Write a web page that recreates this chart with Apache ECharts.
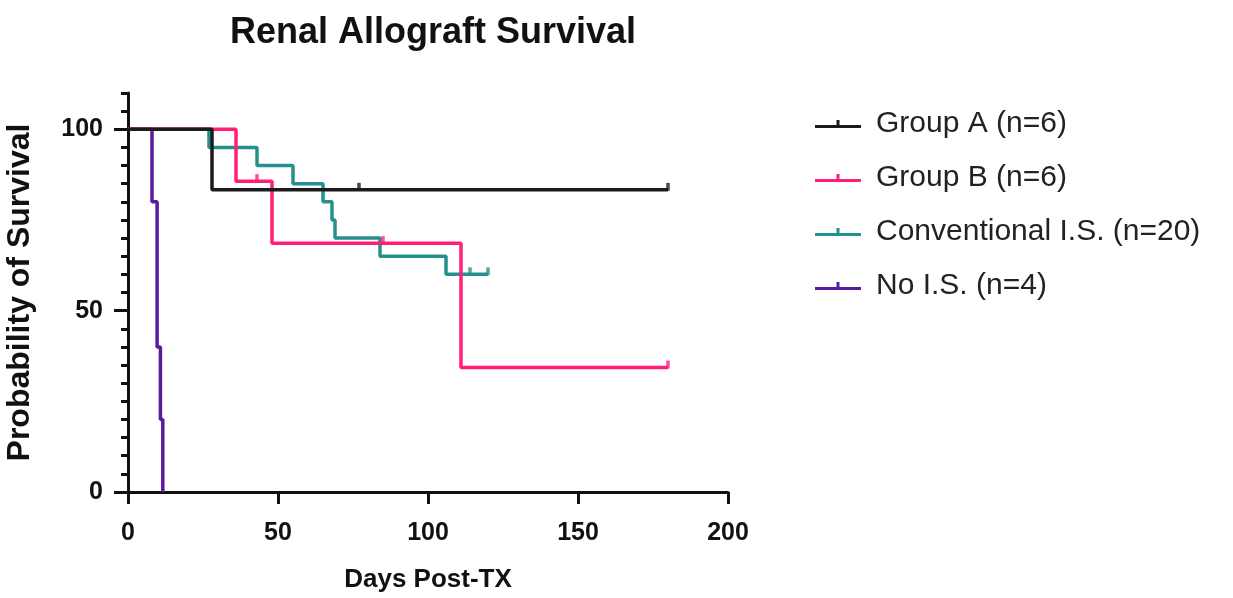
<!DOCTYPE html>
<html>
<head>
<meta charset="utf-8">
<script src="https://cdn.jsdelivr.net/npm/echarts@6/dist/echarts.min.js"></script>
<style>
  html, body { margin: 0; padding: 0; background: #fff; }
  #chart { width: 1233px; height: 598px; }
</style>
</head>
<body>
<div id="chart"></div>
<script>
// Kaplan-Meier style survival curves
const groupNames = ['Group A (n=6)', 'Group B (n=6)', 'Conventional I.S. (n=20)', 'No I.S. (n=4)']
const groupColors = ['#1b1b1b', '#ff1f78', '#24918f', '#5a1aa0']

// event times (days) and survival (%) after each step
const groupADays = [0, 28, 180]
const groupASurv = [100, 83.3, 83.3]
const groupACensorDays = [77, 180]
const groupACensorSurv = [83.3, 83.3]

const groupBDays = [0, 36, 48, 111, 180]
const groupBSurv = [100, 85.7, 68.6, 34.3, 34.3]
const groupBCensorDays = [43, 85, 180]
const groupBCensorSurv = [85.7, 68.6, 34.3]

const convDays = [0, 27, 43, 55, 65, 68, 69, 84, 106, 120]
const convSurv = [100, 95, 90, 85, 80, 75, 70, 65, 60, 60]
const convCensorDays = [114, 120]
const convCensorSurv = [60, 60]

const noIsDays = [0, 8, 9.7, 10.8, 11.6]
const noIsSurv = [100, 80, 40, 20, 0]
const noIsCensorDays = []
const noIsCensorSurv = []

const xTicks = [0, 50, 100, 150, 200]
const yMajorTicks = [0, 50, 100]

const pairs = (xs, ys) => xs.map((x, i) => [x, ys[i]])

const curves = [
  [groupADays, groupASurv, groupACensorDays, groupACensorSurv],
  [groupBDays, groupBSurv, groupBCensorDays, groupBCensorSurv],
  [convDays, convSurv, convCensorDays, convCensorSurv],
  [noIsDays, noIsSurv, noIsCensorDays, noIsCensorSurv],
]

const font = '"Liberation Sans", Arial, Helvetica, sans-serif'
const legendIcon = 'path://M0,7h46v3h-46z M21.5,2h3v5h-3z'

// group A is drawn on top, no I.S. at the bottom
const series = []
curves.forEach(function (c, g) {
  series.push({
    name: groupNames[g],
    type: 'line',
    step: 'end',
    data: pairs(c[0], c[1]),
    showSymbol: false,
    symbol: 'none',
    z: 10 - g,
    lineStyle: { width: 3.5, color: groupColors[g] },
    itemStyle: { color: groupColors[g] },
    emphasis: { disabled: true },
  })
  series.push({
    name: groupNames[g],
    type: 'scatter',
    data: pairs(c[2], c[3]),
    symbol: 'rect',
    symbolSize: [3.5, 8],
    symbolOffset: [0, -3],
    z: 10 - g,
    itemStyle: { color: groupColors[g] },
    emphasis: { disabled: true },
  })
})

const chart = echarts.init(document.getElementById('chart'))
chart.setOption({
  animation: false,
  backgroundColor: '#fff',
  textStyle: { fontFamily: font },
  title: {
    text: 'Renal Allograft Survival',
    left: 428,
    textAlign: 'center',
    top: 10,
    textStyle: { fontFamily: font, fontSize: 36, fontWeight: 'bold', color: '#111' },
  },
  legend: {
    orient: 'vertical',
    left: 810,
    top: 104,
    itemWidth: 46,
    itemHeight: 10,
    itemGap: 24,
    selectedMode: false,
    textStyle: { fontFamily: font, fontSize: 30, color: '#222', padding: [0, 0, 0, 10] },
    data: groupNames.map(n => ({ name: n, icon: legendIcon })),
  },
  grid: { left: 128, right: 505, top: 93, bottom: 105 },
  xAxis: {
    type: 'value',
    min: 0,
    max: 200,
    interval: 50,
    name: 'Days Post-TX',
    nameLocation: 'middle',
    nameGap: 75,
    nameTextStyle: { fontFamily: font, fontSize: 26, fontWeight: 'bold', color: '#111' },
    axisLine: { show: true, lineStyle: { color: '#111', width: 3 } },
    axisTick: { show: true, length: 12, lineStyle: { color: '#111', width: 3 } },
    axisLabel: {
      margin: 29,
      fontFamily: font, fontSize: 25, fontWeight: 'bold', color: '#111',
      customValues: xTicks,
    },
    splitLine: { show: false },
  },
  yAxis: [
    {
      type: 'value',
      position: 'left',
      min: 0,
      max: 110,
      interval: 5,
      name: 'Probability of Survival',
      nameLocation: 'middle',
      nameGap: 92,
      nameRotate: 90,
      nameTextStyle: { fontFamily: font, fontSize: 32, fontWeight: 'bold', color: '#111' },
      axisLine: { show: true, lineStyle: { color: '#111', width: 3 } },
      axisTick: { show: true, length: 7, lineStyle: { color: '#111', width: 3 } },
      axisLabel: { show: false },
      splitLine: { show: false },
    },
    {
      type: 'value',
      position: 'left',
      offset: 0,
      min: 0,
      max: 110,
      interval: 5,
      axisLine: { show: false },
      axisTick: { show: true, length: 14, customValues: yMajorTicks, lineStyle: { color: '#111', width: 3 } },
      axisLabel: {
        margin: 25,
        fontFamily: font, fontSize: 25, fontWeight: 'bold', color: '#111',
        customValues: yMajorTicks,
      },
      splitLine: { show: false },
    },
  ],
  series: series,
})
</script>
</body>
</html>
